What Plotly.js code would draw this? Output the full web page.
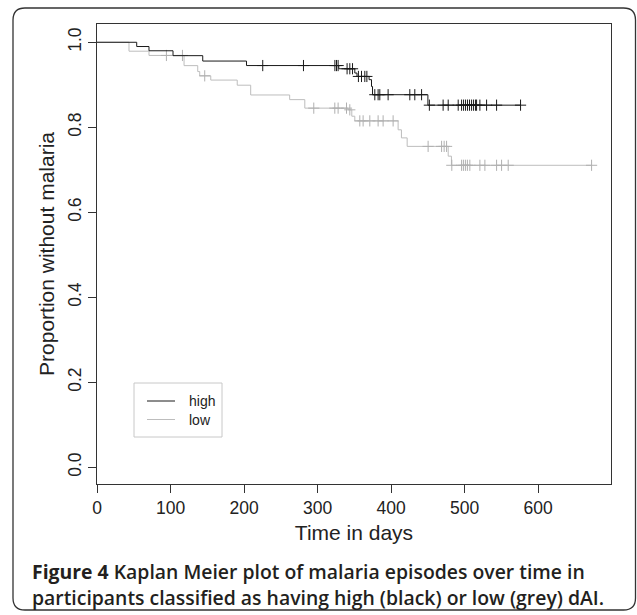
<!DOCTYPE html>
<html>
<head>
<meta charset="utf-8">
<script src="https://cdn.plot.ly/plotly-3.0.1.min.js"></script>
<style>
  html, body { margin: 0; padding: 0; background: #ffffff; }
  #chart { width: 637px; height: 615px; }
</style>
</head>
<body>
<div id="chart"></div>
<script>
// ---- data ----
const highTimes = [0, 54, 70.7, 103.4, 143.8, 203.3, 328.8, 350.6, 353.6, 370, 373.3, 374.7, 450];
const highSurv  = [1, 0.990, 0.980, 0.9685, 0.9558, 0.9452, 0.9377, 0.9276, 0.9196, 0.912, 0.896, 0.8766, 0.852];
const highCensor = [225.4, 280.8, 323.5, 325.7, 327.9, 340.1, 343.8, 347.5, 355.5, 359.7, 364.2, 367,
  377.8, 382.3, 384.6, 395.9, 425.4, 432.2, 441.4, 452, 470.7, 477.6, 491.2, 495.8, 498.5, 501.2,
  503.9, 506.6, 509.4, 512.1, 514.8, 516.2, 520.7, 529.8, 543.4, 576];

const lowTimes = [0, 43.5, 70.7, 118.4, 137, 139.7, 154.7, 190.7, 209, 262, 282.6, 341.5, 346.5, 350.6, 409.5, 414, 421.8, 477.6, 482];
const lowSurv  = [1, 0.979, 0.969, 0.945, 0.931, 0.921, 0.911, 0.899, 0.876, 0.865, 0.845, 0.841, 0.826, 0.815, 0.794, 0.775, 0.755, 0.732, 0.7105];
const lowCensor = [94.4, 116.2, 146.5, 294.8, 323.4, 327.9, 339.3, 343.8, 357.4, 361.9, 371, 382.3, 389.1,
  402.7, 450.3, 468.6, 472.1, 475.4, 482.5, 495.8, 498.3, 501, 503.7, 507, 520.7, 527.5, 543.4, 550.2,
  559.2, 672.6];

const seriesNames = ["high", "low"];
const xTicks = [0, 100, 200, 300, 400, 500, 600];
const yTicks = [0, 0.2, 0.4, 0.6, 0.8, 1.0];

// ---- helpers ----
function survAt(times, surv, t) {
  let s = surv[0];
  for (let i = 0; i < times.length; i++) { if (times[i] <= t) s = surv[i]; }
  return s;
}
function stepTrace(times, surv, censor, color) {
  const end = Math.max(...censor);
  const xs = times.concat([end]);
  const ys = surv.concat([survAt(times, surv, end)]);
  return {
    x: xs, y: ys, type: 'scatter', mode: 'lines', line: {shape: 'hv', color: color, width: 1},
    showlegend: false, hoverinfo: 'skip'
  };
}
function censorTrace(times, surv, censor, color) {
  return {
    x: censor, y: censor.map(t => survAt(times, surv, t)), type: 'scatter', mode: 'markers',
    marker: {symbol: 'cross-thin-open', size: 8, line: {color: color, width: 1}, color: color},
    showlegend: false, hoverinfo: 'skip'
  };
}

const BLACK = '#1a1a1a';
const GREY = '#bdbdbd';

const traces = [
  stepTrace(lowTimes, lowSurv, lowCensor, GREY),
  censorTrace(lowTimes, lowSurv, lowCensor, '#b0b0b0'),
  stepTrace(highTimes, highSurv, highCensor, BLACK),
  censorTrace(highTimes, highSurv, highCensor, BLACK)
];

// pixel -> paper helpers (plot area: x 97..611, y 24..484)
const L = 97, R = 611, T = 24, B = 484;
const px = v => (v - L) / (R - L);
const py = v => (B - v) / (B - T);

// outer rounded border
const x0 = px(13), x1 = px(635.5), y0 = py(8), y1 = py(610);
const rx = 12 / (R - L), ry = 12 / (B - T);
const borderPath = `M ${x0} ${y0 - ry} Q ${x0} ${y0} ${x0 + rx} ${y0} L ${x1 - rx} ${y0} Q ${x1} ${y0} ${x1} ${y0 - ry} ` +
  `L ${x1} ${y1 + ry} Q ${x1} ${y1} ${x1 - rx} ${y1} L ${x0 + rx} ${y1} Q ${x0} ${y1} ${x0} ${y1 + ry} Z`;

const shapes = [
  {type: 'path', xref: 'paper', yref: 'paper', path: borderPath, line: {color: '#333', width: 1.3}},
  // legend box
  {type: 'rect', xref: 'paper', yref: 'paper', x0: px(134), x1: px(222), y0: py(383), y1: py(437),
   line: {color: '#c8c8c8', width: 1}},
  {type: 'line', xref: 'paper', yref: 'paper', x0: px(147), x1: px(175), y0: py(401), y1: py(401),
   line: {color: BLACK, width: 1}},
  {type: 'line', xref: 'paper', yref: 'paper', x0: px(147), x1: px(175), y0: py(419.5), y1: py(419.5),
   line: {color: GREY, width: 1}}
];

const capFont = {family: 'Open Sans, Noto Sans, sans-serif', size: 19.4, color: '#231f20', weight: 600};
const annotations = [
  {xref: 'paper', yref: 'paper', x: px(187), y: py(401), xanchor: 'left', yanchor: 'middle', showarrow: false,
   text: seriesNames[0], font: {family: 'Liberation Sans, Arial, sans-serif', size: 14, color: '#222'}},
  {xref: 'paper', yref: 'paper', x: px(187), y: py(419.5), xanchor: 'left', yanchor: 'middle', showarrow: false,
   text: seriesNames[1], font: {family: 'Liberation Sans, Arial, sans-serif', size: 14, color: '#222'}},
  {xref: 'paper', yref: 'paper', x: px(30), y: py(571), xanchor: 'left', yanchor: 'middle', showarrow: false,
   text: '<b>Figure 4</b> Kaplan Meier plot of malaria episodes over time in', font: capFont},
  {xref: 'paper', yref: 'paper', x: px(30), y: py(597), xanchor: 'left', yanchor: 'middle', showarrow: false,
   text: 'participants classified as having high (black) or low (grey) dAI.', font: capFont}
];

const layout = {
  width: 637, height: 615,
  margin: {l: L, r: 637 - R, t: T, b: 615 - B},
  paper_bgcolor: '#ffffff', plot_bgcolor: '#ffffff',
  font: {family: 'Liberation Sans, Arial, sans-serif', color: '#222'},
  showlegend: false,
  xaxis: {
    range: [0, 699], tickvals: xTicks, ticktext: xTicks.map(String),
    ticks: 'outside', ticklen: 8, tickcolor: '#333', tickwidth: 1,
    showline: true, linecolor: '#333', linewidth: 1, mirror: true,
    showgrid: false, zeroline: false,
    tickfont: {size: 17.5, color: '#222'},
    title: {text: 'Time in days', font: {size: 21, color: '#222'}, standoff: 8}
  },
  yaxis: {
    range: [-0.0395, 1.043], tickvals: yTicks, ticktext: yTicks.map(v => v.toFixed(1)),
    ticks: 'outside', ticklen: 8, tickcolor: '#333', tickwidth: 1, tickangle: -90,
    showline: true, linecolor: '#333', linewidth: 1, mirror: true,
    showgrid: false, zeroline: false,
    tickfont: {size: 17.5, color: '#222'},
    title: {text: 'Proportion without malaria', font: {size: 21, color: '#222'}, standoff: 4}
  },
  shapes: shapes,
  annotations: annotations
};

Plotly.newPlot('chart', traces, layout, {staticPlot: true, displayModeBar: false});
</script>
</body>
</html>
